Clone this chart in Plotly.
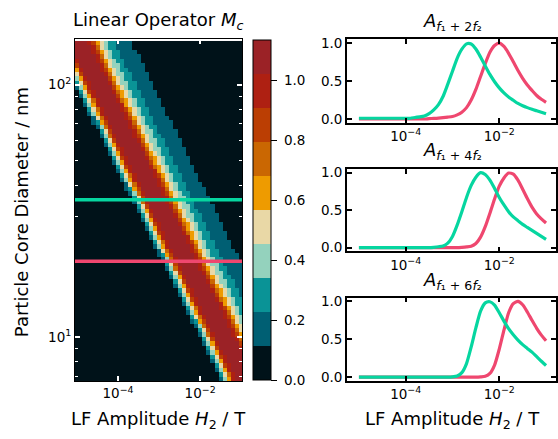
import numpy as np
import plotly.graph_objects as go

W, H = 558, 439
FONT = "DejaVu Sans"

# ---------------- data ----------------
# discrete colour levels of the operator map (low -> high)
palette = ["#001219", "#005f73", "#0a9396", "#94d2bd", "#e9d8a6",
           "#ee9b00", "#ca6702", "#bb3e03", "#ae2012", "#9b2226"]
z_max = 1.134
cbar_ticks = [0.0, 0.2, 0.4, 0.6, 0.8, 1.0]

# heatmap sampling (log10 of H2 in T, log10 of diameter in nm)
h2_exp_edges = np.round(np.arange(-5.05, -0.94, 0.1), 3)
d_exp_edges = np.round(np.arange(0.826, 2.19, 0.0175), 4)

# band leading edge: log10 diameter -> log10 H2
edge_log_d = [0.833, 0.965, 1.315, 1.556, 1.782, 1.930, 2.170]
edge_log_h2 = [-1.44, -1.88, -3.03, -3.71, -4.46, -4.81, -5.50]

# cross-section of the band (decades past the leading edge -> value)
band_offset = [-0.40, -0.05, 0.00, 0.06, 0.12, 0.17, 0.22, 0.27, 0.32, 0.40,
               0.60, 0.80, 0.88, 0.93, 0.98, 1.03, 1.10, 1.20, 1.30, 1.40,
               1.60, 1.85, 1.95, 2.30]
band_value = [0.00, 0.05, 0.13, 0.26, 0.40, 0.52, 0.64, 0.85, 0.97, 1.05,
              1.10, 1.05, 0.96, 0.86, 0.73, 0.62, 0.52, 0.42, 0.33, 0.25,
              0.19, 0.13, 0.09, 0.03]

# the two selected diameters (nm)
sel_diam = [35, 20]
sel_color = ["#06d6a0", "#ef476f"]

# harmonic amplitudes, sampled every 0.1 decade of H2 from 1e-5 to 1e-1
amp_h2_exp = [round(-5.0 + 0.1 * i, 1) for i in range(41)]

a2_green = [0.01] * 12 + [0.02, 0.028, 0.04, 0.07, 0.12, 0.19, 0.30, 0.46, 0.63, 0.80,
                          0.92, 0.99, 0.988, 0.922, 0.817, 0.70, 0.588, 0.491, 0.41, 0.344,
                          0.29, 0.247, 0.205, 0.175, 0.15, 0.128, 0.108, 0.088, 0.068]
a2_pink = [0.0] * 15 + [0.005, 0.008, 0.012, 0.018, 0.025, 0.033, 0.055, 0.09, 0.15, 0.25,
                        0.39, 0.56, 0.73, 0.88, 0.97, 1.0, 0.956, 0.866, 0.754, 0.64,
                        0.537, 0.449, 0.377, 0.31, 0.26, 0.22]
a4_green = [0.0] * 16 + [0.005, 0.012, 0.022, 0.06, 0.15, 0.30, 0.48, 0.67, 0.83, 0.94,
                         1.0, 0.975, 0.90, 0.79, 0.67, 0.57, 0.48, 0.41, 0.36, 0.31,
                         0.27, 0.23, 0.19, 0.15, 0.11]
a4_pink = [0.0] * 22 + [0.004, 0.01, 0.02, 0.055, 0.14, 0.28, 0.46, 0.65, 0.82, 0.93,
                        0.995, 0.98, 0.90, 0.78, 0.655, 0.54, 0.45, 0.385, 0.33]
a6_green = [0.0] * 20 + [0.004, 0.015, 0.06, 0.18, 0.40, 0.65, 0.87, 0.98, 0.995, 0.95,
                         0.85, 0.74, 0.64, 0.56, 0.49, 0.43, 0.38, 0.33, 0.27, 0.21, 0.155]
a6_pink = [0.0] * 26 + [0.004, 0.012, 0.05, 0.16, 0.37, 0.62, 0.85, 0.97, 1.0, 0.955,
                        0.86, 0.75, 0.645, 0.555, 0.48]

panel_titles = ["<i>A</i><sub><i>f</i>₁ + 2<i>f</i>₂</sub>",
                "<i>A</i><sub><i>f</i>₁ + 4<i>f</i>₂</sub>",
                "<i>A</i><sub><i>f</i>₁ + 6<i>f</i>₂</sub>"]

# ---------------- build map ----------------
h2_centers = (h2_exp_edges[:-1] + h2_exp_edges[1:]) / 2
d_centers = (d_exp_edges[:-1] + d_exp_edges[1:]) / 2
fit = np.polyfit(edge_log_d, edge_log_h2, 1)
z = []
for ld in d_centers:
    lead = np.polyval(fit, ld)
    z.append(np.interp(h2_centers - lead, band_offset, band_value, left=0.0, right=0.02))
z = np.array(z)

cs = []
n = len(palette)
for i, c in enumerate(palette):
    cs.append([i / n, c])
    cs.append([(i + 1) / n, c])

fig = go.Figure()
fig.add_trace(go.Heatmap(
    x=10 ** h2_exp_edges, y=10 ** d_exp_edges, z=z,
    colorscale=cs, zmin=0, zmax=z_max, zsmooth=False, hoverinfo="skip",
    xaxis="x", yaxis="y",
    colorbar=dict(x=253 / W, xanchor="left", y=1 - 210 / H, yanchor="middle",
                  len=346 / H, lenmode="fraction", thickness=18, thicknessmode="pixels",
                  outlinewidth=1, outlinecolor="black", xpad=0, ypad=0,
                  ticks="outside", ticklen=6, tickwidth=1, tickcolor="black",
                  tickvals=cbar_ticks, ticktext=["\u00a0" + f"{v:.1f}" for v in cbar_ticks],
                  tickfont=dict(family=FONT, size=13.5, color="black")),
))

for dval, col in zip(sel_diam, sel_color):
    fig.add_shape(type="line", xref="x domain", yref="y", x0=0, x1=1, y0=dval, y1=dval,
                  line=dict(color=col, width=3.5), layer="above")

amp_x = [10 ** e for e in amp_h2_exp]
curves = [(a2_green, a2_pink), (a4_green, a4_pink), (a6_green, a6_pink)]
for k, (gy, py) in enumerate(curves):
    ax = str(k + 2)
    fig.add_trace(go.Scatter(x=amp_x, y=py, mode="lines",
                             line=dict(color=sel_color[1], width=3.2, shape="spline", smoothing=0.6),
                             xaxis="x" + ax, yaxis="y" + ax, hoverinfo="skip", showlegend=False))
    fig.add_trace(go.Scatter(x=amp_x, y=gy, mode="lines",
                             line=dict(color=sel_color[0], width=3.2, shape="spline", smoothing=0.6),
                             xaxis="x" + ax, yaxis="y" + ax, hoverinfo="skip", showlegend=False))

tickfont = dict(family=FONT, size=13.5, color="black")
xt_vals = [1e-4, 1e-2]
xt_text = ["10<sup>−4</sup>", "10<sup>−2</sup>"]

layout = dict(
    width=W, height=H, margin=dict(l=0, r=0, t=0, b=0), autosize=False,
    paper_bgcolor="white", plot_bgcolor="white", showlegend=False,
    font=dict(family=FONT, color="black"),
    xaxis=dict(type="log", range=[-5.05, -0.98], domain=[75 / W, 242 / W], anchor="y",
               tickvals=xt_vals, ticktext=xt_text, ticks="inside", ticklen=5, tickwidth=1.5,
               tickcolor="white", showline=True, linecolor="black", linewidth=1,
               mirror="ticks", showgrid=False, zeroline=False, tickfont=tickfont),
    yaxis=dict(type="log", range=[0.826, 2.18], domain=[1 - 384 / H, 1 - 36 / H], anchor="x",
               tickvals=[10, 100], ticktext=["10<sup>1</sup>", "10<sup>2</sup>"],
               ticks="inside", ticklen=5, tickwidth=1.5, tickcolor="white",
               minor=dict(tickvals=[7, 8, 9, 20, 30, 40, 50, 60, 70, 80, 90],
                          ticks="inside", ticklen=3, tickwidth=1.2, tickcolor="white", showgrid=False),
               showline=True, linecolor="black", linewidth=1, mirror="ticks",
               showgrid=False, zeroline=False, tickfont=tickfont),
)
panel_y = [(36, 121), (168, 252), (299, 384)]
for k, (top, bot) in enumerate(panel_y):
    ax = str(k + 2)
    layout["xaxis" + ax] = dict(type="log", range=[-5.255, -0.787], domain=[347 / W, 556 / W],
                                anchor="y" + ax, tickvals=xt_vals, ticktext=xt_text,
                                ticks="inside", ticklen=5, tickwidth=1.5, tickcolor="black",
                                showline=True, linecolor="black", linewidth=1.8, mirror="ticks",
                                showgrid=False, zeroline=False, tickfont=tickfont)
    layout["yaxis" + ax] = dict(range=[-0.05, 1.05], domain=[1 - bot / H, 1 - top / H],
                                anchor="x" + ax, tickvals=[0, 0.5, 1.0],
                                ticktext=["0.0", "0.5", "1.0"],
                                ticks="inside", ticklen=5, tickwidth=1.5, tickcolor="black",
                                showline=True, linecolor="black", linewidth=1.8, mirror="ticks",
                                showgrid=False, zeroline=False, tickfont=tickfont)

ann = [
    dict(text="Linear Operator <i>M</i><sub><i>c</i></sub>", x=158.5 / W, y=1 - 17 / H, size=18),
    dict(text="LF Amplitude <i>H</i><sub>2</sub> / T", x=158 / W, y=1 - 424 / H, size=18),
    dict(text="LF Amplitude <i>H</i><sub>2</sub> / T", x=452 / W, y=1 - 424 / H, size=18),
    dict(text=panel_titles[0], x=452 / W, y=1 - 18 / H, size=18),
    dict(text=panel_titles[1], x=452 / W, y=1 - 150 / H, size=18),
    dict(text=panel_titles[2], x=452 / W, y=1 - 282 / H, size=18),
]
layout["annotations"] = [
    dict(text=a["text"], x=a["x"], y=a["y"], xref="paper", yref="paper",
         xanchor="center", yanchor="middle", showarrow=False,
         font=dict(family=FONT, size=a["size"], color="black")) for a in ann
] + [dict(text="Particle Core Diameter / nm", x=21 / W, y=1 - 212 / H, xref="paper", yref="paper",
          xanchor="center", yanchor="middle", showarrow=False, textangle=-90,
          font=dict(family=FONT, size=18, color="black"))]

fig.update_layout(**layout)
fig.write_html("out.html", config={"displayModeBar": False},
               post_script="document.body.style.margin='0px';document.body.style.overflow='hidden';")
